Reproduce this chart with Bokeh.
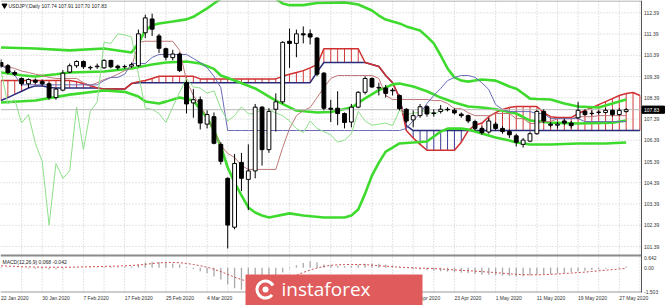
from bokeh.plotting import figure
from bokeh.models import Range1d, ColumnDataSource
from bokeh.embed import file_html
from bokeh.resources import INLINE
from bokeh.core.properties import value

# ---------------- data ----------------
symbol_header = "USDJPY,Daily  107.74 107.91 107.70 107.83"
macd_header = "MACD(12,26,9) 0.068 -0.042"

opens = [110.05,109.90,109.58,109.30,109.05,109.22,109.15,109.05,108.40,108.75,
         109.60,109.90,110.10,109.82,109.85,109.80,110.15,109.88,109.85,109.88,
         109.90,111.45,112.10,111.30,110.70,110.28,110.45,109.10,108.15,108.30,
         107.15,107.50,106.20,104.60,102.30,105.35,104.55,104.95,107.95,105.95,
         107.85,108.20,111.05,110.95,111.40,111.40,111.20,109.55,107.90,107.90,
         107.65,107.25,107.95,108.65,109.30,108.88,108.85,108.75,108.50,107.85,
         107.35,107.55,107.97,107.68,107.75,107.85,107.80,107.62,107.55,107.27,
         106.95,106.78,107.15,106.95,106.80,106.60,106.20,106.35,106.70,107.75,
         107.15,107.10,107.30,107.20,107.45,107.75,107.65,107.70,107.70,107.80,
         107.60,107.74]
highs = [110.20,109.98,109.68,109.35,109.30,109.30,109.25,109.12,108.85,109.70,
         110.00,110.15,110.15,109.90,110.00,110.20,110.18,109.95,109.95,110.05,
         111.60,112.30,112.35,111.40,110.75,110.65,110.52,109.20,108.80,108.45,
         107.80,107.70,106.30,104.65,105.75,105.80,106.20,108.10,108.00,107.90,
         108.60,111.05,111.65,111.60,111.75,111.60,111.25,109.60,108.30,108.70,
         107.70,108.10,108.70,109.40,109.35,109.10,109.00,108.85,108.55,107.90,
         107.80,108.10,108.05,107.85,108.05,107.95,107.90,107.70,107.60,107.35,
         107.05,107.45,107.25,107.05,106.90,106.70,106.50,106.80,107.80,107.85,
         107.25,107.25,107.40,107.30,108.20,107.85,107.80,107.80,107.90,107.85,
         107.90,107.91]
lows = [109.80,109.50,109.42,108.95,108.85,109.05,108.95,108.30,108.30,108.70,
        109.55,109.80,109.75,109.70,109.75,109.75,109.78,109.70,109.75,109.80,
        109.85,111.20,111.30,110.50,110.15,110.15,109.60,107.65,107.45,106.90,
        106.95,106.20,105.25,101.30,102.20,104.00,103.10,104.60,105.20,105.80,
        106.80,108.10,109.80,110.30,110.95,110.90,109.40,107.80,107.25,107.10,
        106.95,107.00,107.90,108.55,108.85,108.50,108.40,108.50,107.80,107.20,
        107.00,107.45,107.50,107.50,107.65,107.75,107.60,107.45,107.20,106.85,
        106.65,106.70,106.85,106.70,106.50,106.10,106.05,106.30,106.65,107.20,
        107.00,106.95,107.10,106.95,107.40,107.55,107.55,107.60,107.65,107.50,
        107.55,107.70]
closes = [109.88,109.58,109.50,109.05,109.25,109.12,109.05,108.40,108.80,109.55,
          109.90,110.10,109.85,109.80,109.88,110.15,109.85,109.80,109.86,109.95,
          111.40,112.15,111.62,110.72,110.30,110.45,109.67,108.10,108.30,107.20,
          107.60,106.25,105.40,102.40,105.30,104.60,104.95,107.95,105.95,107.75,
          108.20,111.00,110.95,111.40,111.35,111.25,109.50,107.90,107.85,107.65,
          107.23,107.95,108.65,109.30,108.90,108.85,108.60,108.72,107.88,107.30,
          107.55,107.97,107.63,107.65,107.85,107.83,107.68,107.55,107.30,106.95,
          106.75,107.30,106.95,106.80,106.65,106.30,106.40,106.70,107.75,107.30,
          107.10,107.15,107.20,107.08,107.80,107.60,107.66,107.72,107.80,107.60,
          107.80,107.83]
last_price = 107.83

# Bollinger bands (bar index, value)
bb_up_idx = [0,5,10,15,18,19,20,21,22,23,25,27,28,29,30,31,32,33,35,37,39,40,41,42,44,46,50,52,53,54,55,56,57,58,59,60,61,62,63,64,65,66,67,68,69,70,72,73,74,75,76,77,78,80,82,84,87,89,91]
bb_up = [110.76,110.71,110.62,110.71,110.57,110.52,110.95,111.56,111.80,111.89,111.98,112.08,112.20,112.40,112.60,112.83,113.05,113.30,113.60,113.70,113.40,113.05,112.83,112.75,112.75,112.85,112.88,112.78,112.64,112.50,112.26,112.07,111.98,111.89,111.75,111.65,111.56,111.27,110.95,110.38,109.77,109.35,109.20,109.15,109.20,109.25,109.20,109.06,108.92,108.82,108.59,108.35,108.33,108.31,108.12,107.98,107.93,108.12,108.31]
bb_mid_idx = [0,3,5,8,10,15,19,22,24,27,29,31,32,34,37,40,43,46,48,51,53,55,56,57,58,60,62,64,66,68,70,72,75,77,80,84,89,91]
bb_mid = [109.58,109.45,109.39,109.50,109.58,109.63,109.77,109.96,110.05,110.10,110.00,109.75,109.44,109.20,108.83,108.26,107.79,107.70,107.72,107.93,108.36,108.75,108.87,109.02,109.06,108.92,108.70,108.40,108.17,107.98,107.93,107.85,107.65,107.32,107.22,107.18,107.22,107.32]
bb_low_idx = [0,5,10,15,18,20,21,23,24,26,28,30,31,32,33,34,35,36,37,38,39,42,44,47,50,51,52,53,54,55,56,57,58,60,62,63,64,65,67,68,69,70,72,74,75,77,80,84,88,91]
bb_low = [108.17,108.26,108.54,108.73,108.67,108.45,108.22,108.12,108.21,108.40,108.26,107.46,106.85,106.10,105.11,104.40,103.80,103.23,102.99,102.85,102.76,102.95,102.85,102.76,102.76,102.85,103.13,103.88,104.73,105.34,105.86,106.05,106.24,106.29,106.33,106.57,106.80,106.94,106.94,106.90,106.80,106.71,106.52,106.38,106.29,106.19,106.19,106.24,106.24,106.29]

# Ichimoku
tenkan = [109.91,109.85,109.77,109.65,109.58,109.50,109.44,109.35,109.30,109.30,
          109.30,109.30,109.10,108.97,109.10,109.25,109.35,109.50,109.67,109.81,
          111.00,111.05,111.05,111.05,111.05,111.05,110.62,109.20,108.50,108.03,
          107.46,106.85,106.15,105.77,105.58,105.21,105.02,105.02,105.02,105.02,
          105.02,106.05,106.94,107.55,107.79,107.93,108.40,108.87,109.30,109.44,
          109.44,109.44,109.44,109.44,109.44,109.30,108.50,108.31,108.31,108.31,
          108.31,108.31,108.31,108.26,108.26,108.12,107.88,107.88,107.69,107.55,
          107.55,107.55,107.65,107.65,107.65,107.41,107.41,107.18,107.18,107.27,
          107.27,107.41,107.41,107.41,107.50,107.50,107.50,107.55,107.55,107.55,
          107.55,107.55]
kijun = [109.90,109.75,109.45,109.00,109.00,109.00,109.00,109.00,109.00,109.00,
         109.00,109.00,109.00,109.00,109.00,109.20,109.35,109.35,109.50,110.00,
         110.00,110.00,110.29,110.43,110.43,110.43,110.43,110.43,110.24,110.05,
         109.81,109.40,108.87,106.85,106.85,106.85,106.85,106.85,106.85,106.85,
         106.85,106.85,106.85,106.85,106.85,106.85,106.85,106.85,106.85,106.85,
         106.85,106.85,106.85,106.85,106.85,106.85,106.85,106.85,106.85,106.95,
         107.32,107.65,108.12,108.50,108.83,109.20,109.35,109.44,109.44,109.35,
         109.10,108.78,108.07,107.84,107.74,107.74,107.74,107.74,107.65,107.65,
         107.41,107.41,107.41,107.41,107.41,107.27,107.27,107.27,107.27,107.27,
         107.27,107.27]
span_a = [109.20,109.20,109.20,109.20,109.20,109.20,109.20,109.20,109.20,109.20,
          109.20,109.15,109.05,108.97,108.85,108.80,108.80,108.80,108.80,109.06,
          109.15,109.20,109.30,109.40,109.40,109.40,109.40,109.40,109.40,109.28,
          109.28,109.28,109.28,109.28,109.28,109.28,109.28,109.28,109.28,109.28,
          109.28,109.40,109.50,109.58,109.67,109.80,109.95,110.70,110.70,110.70,
          110.70,110.70,110.70,110.05,109.96,109.86,109.44,109.10,108.40,106.85,
          106.50,106.20,105.92,105.92,105.92,105.92,105.92,106.30,106.85,107.10,
          107.20,107.50,107.69,107.84,107.93,107.98,107.98,107.98,107.98,107.69,
          107.50,107.46,107.46,107.46,107.65,107.79,107.93,108.07,108.21,108.35,
          108.50,108.59,108.64,108.50]
span_b = [108.26,108.40,108.55,108.70,108.85,108.95,108.95,108.88,108.85,108.85,
          108.85,108.85,108.85,108.85,108.85,108.80,108.80,108.80,108.80,109.06,
          109.10,109.10,109.10,109.10,109.10,109.10,109.10,109.10,109.10,109.10,
          109.10,109.10,109.10,109.10,109.10,109.10,109.10,109.10,109.10,109.10,
          109.10,109.10,109.10,109.10,109.10,109.10,109.60,110.05,110.05,110.05,
          110.05,110.05,110.05,110.05,109.96,109.86,109.44,109.10,108.40,107.08,
          106.85,106.85,106.85,106.85,106.85,106.85,106.85,106.85,106.85,106.85,
          106.85,106.85,106.85,106.85,106.85,106.85,106.85,106.85,106.85,106.85,
          106.85,106.85,106.85,106.85,106.85,106.85,106.85,106.85,106.85,106.85,
          106.85,106.85,106.85,106.85]
chikou_shift = 26

# MACD
macd_main = [0.05,0.03,0.00,-0.03,-0.05,-0.06,-0.07,-0.10,-0.10,-0.07,
             -0.04,-0.02,0.00,0.02,0.03,0.05,0.06,0.06,0.07,0.08,
             0.20,0.33,0.38,0.36,0.32,0.27,0.20,0.05,-0.08,-0.22,
             -0.35,-0.55,-0.75,-1.05,-1.30,-1.40,-1.45,-1.20,-1.05,-0.85,
             -0.65,-0.30,-0.05,0.15,0.30,0.40,0.35,0.20,0.15,0.12,
             0.10,0.12,0.18,0.25,0.27,0.25,0.20,0.14,0.08,0.00,
             -0.08,-0.12,-0.16,-0.20,-0.22,-0.25,-0.28,-0.32,-0.35,-0.40,
             -0.44,-0.45,-0.47,-0.50,-0.52,-0.55,-0.54,-0.50,-0.45,-0.42,
             -0.40,-0.37,-0.33,-0.28,-0.24,-0.20,-0.15,-0.10,-0.06,-0.02,
             0.03,0.068]
macd_signal = [0.12,0.10,0.08,0.06,0.05,0.04,0.03,0.03,0.03,0.03,
               0.03,0.04,0.05,0.06,0.07,0.08,0.09,0.10,0.12,0.14,
               0.17,0.21,0.26,0.30,0.33,0.33,0.31,0.27,0.20,0.12,
               0.03,-0.10,-0.25,-0.42,-0.60,-0.75,-0.88,-0.95,-0.97,-0.95,
               -0.90,-0.80,-0.65,-0.48,-0.30,-0.15,-0.02,0.08,0.15,0.18,
               0.20,0.20,0.20,0.19,0.16,0.12,0.09,0.06,0.03,0.01,
               -0.01,-0.03,-0.04,-0.06,-0.08,-0.11,-0.14,-0.17,-0.19,-0.22,
               -0.25,-0.28,-0.31,-0.35,-0.39,-0.42,-0.44,-0.45,-0.45,-0.44,
               -0.42,-0.40,-0.37,-0.34,-0.31,-0.28,-0.24,-0.20,-0.16,-0.12,
               -0.08,-0.042]

price_ticks = [112.39,111.39,110.39,109.39,108.39,107.39,106.39,105.39,104.39,103.39,102.39,101.39]
macd_ticks = [0.642, 0.00, -1.503]
macd_tick_labels = ["0.642", "0.00", "-1.503"]
date_bars = [0,6,12,18,24,30,36,42,48,54,60,66,72,78,84,90]
date_labels = ["22 Jan 2020","30 Jan 2020","7 Feb 2020","17 Feb 2020","25 Feb 2020","4 Mar 2020",
               "12 Mar 2020","20 Mar 2020","30 Mar 2020","7 Apr 2020","15 Apr 2020","23 Apr 2020",
               "1 May 2020","11 May 2020","19 May 2020","27 May 2020"]

# ---------------- layout (pixels of the 665x305 page) ----------------
W, H = 665, 305
BAR_PX, BAR0_PX = 6.87, 0.5
PRICE_PX, REF_PRICE, REF_Y = 21.25, 112.39, 12.3
M_TOP_V, M_TOP_Y, M_BOT_V, M_BOT_Y = 0.642, 257.0, -1.503, 291.0
RIGHT_PX, MAIN_BOTTOM_PX = 641, 254
WM_LEFT, WM_RIGHT, WM_TOP = 245, 422, 274   # watermark banner over the date axis

def bx(px):
    return (px - BAR0_PX) / BAR_PX

def py(ypx):
    return REF_PRICE - (ypx - REF_Y) / PRICE_PX

M_PX = (M_BOT_Y - M_TOP_Y) / (M_TOP_V - M_BOT_V)

def my(ypx):
    return M_TOP_V - (ypx - M_TOP_Y) / M_PX

FONT = value("Liberation Sans")
n = len(closes)
bars = list(range(n))

p = figure(width=W, height=H, x_range=Range1d(bx(0), bx(W)), y_range=Range1d(py(H), py(0)),
           output_backend="svg", toolbar_location=None, min_border=0,
           x_axis_location=None, y_axis_location=None)
p.extra_y_ranges = {"macd": Range1d(my(H), my(0))}
p.outline_line_color = None
p.grid.visible = False
p.background_fill_color = "white"
p.border_fill_color = "white"

xl, xr = bx(0), bx(RIGHT_PX)
grid_col = "#C9C9C9"
# horizontal grid
p.segment(x0=[xl] * len(price_ticks), x1=[xr] * len(price_ticks), y0=price_ticks, y1=price_ticks,
          line_color=grid_col, line_width=1, line_dash="1 2")
# vertical grid
vg = list(range(3, 94, 3))
p.segment(x0=vg, x1=vg, y0=[py(1)] * len(vg), y1=[py(MAIN_BOTTOM_PX)] * len(vg),
          line_color=grid_col, line_width=1, line_dash="1 2")
p.segment(x0=vg, x1=vg, y0=[my(257)] * len(vg), y1=[my(291)] * len(vg), y_range_name="macd",
          line_color=grid_col, line_width=1, line_dash="1 2")

# Ichimoku cloud hatching
nc = len(span_a)
hatch_col = ["#D23A3A" if a >= b else "#3C3C9A" for a, b in zip(span_a, span_b)]
p.segment(x0=list(range(nc)), x1=list(range(nc)), y0=span_a, y1=span_b, line_color=hatch_col, line_width=1)
p.line(list(range(nc)), span_b, line_color="#2A2A7A", line_width=1.5)
p.line(list(range(nc)), span_a, line_color="#D03030", line_width=1.5)

# Bollinger bands
BB = "#3EDB2E"
p.line(bb_up_idx, bb_up, line_color=BB, line_width=2.6)
p.line(bb_mid_idx, bb_mid, line_color=BB, line_width=2.6)
p.line(bb_low_idx, bb_low, line_color=BB, line_width=2.6)

# Tenkan / Kijun / Chikou
p.line(bars, tenkan, line_color="#C07878", line_width=1)
p.line(bars, kijun, line_color="#6A6AB8", line_width=1)
p.line(bars[: n - chikou_shift], closes[chikou_shift:], line_color="#8EE08A", line_width=1)

# bid line
p.line([xl, xr], [last_price, last_price], line_color="#B8B8B8", line_width=1)

# candles
up = [c >= o for o, c in zip(opens, closes)]
src = ColumnDataSource(dict(
    x=bars, o=opens, h=highs, l=lows, c=closes,
    top=[max(o, c) for o, c in zip(opens, closes)],
    bot=[min(o, c) for o, c in zip(opens, closes)],
    fill=["white" if u else "black" for u in up]))
p.segment(x0="x", x1="x", y0="l", y1="h", source=src, line_color="black", line_width=1)
p.vbar(x="x", width=0.56, top="top", bottom="bot", source=src,
       fill_color="fill", line_color="black", line_width=1)

# MACD panel
p.segment(x0=bars, x1=bars, y0=[0] * n, y1=macd_main, y_range_name="macd",
          line_color="#A9A9A9", line_width=1.3)
p.line(bars, macd_signal, y_range_name="macd", line_color="#C85050", line_width=1, line_dash="2 2")

# frame lines
p.line([xl, xr], [py(0.5), py(0.5)], line_color="#9A9A9A", line_width=1)
p.line([xl, xr], [py(255), py(255)], line_color="#8A8A8A", line_width=2)
p.line([xl, xr], [py(291.5), py(291.5)], line_color="#9A9A9A", line_width=1)
p.line([xr, xr], [py(0), py(292)], line_color="#555555", line_width=1)

# right price labels
p.text(x=[bx(643.5)] * len(price_ticks), y=price_ticks, text=["%.2f" % t for t in price_ticks],
       text_font=FONT, text_font_size="5px", text_color="#333333",
       text_align="left", text_baseline="middle")
p.text(x=[bx(643.5)] * len(macd_ticks), y=macd_ticks, text=macd_tick_labels, y_range_name="macd",
       text_font=FONT, text_font_size="5px", text_color="#333333",
       text_align="left", text_baseline="middle")
# current price tag
p.quad(left=[bx(641.5)], right=[bx(664)], top=[last_price + 3.6 / PRICE_PX], bottom=[last_price - 3.6 / PRICE_PX],
       fill_color="black", line_color="black")
p.text(x=[bx(643.5)], y=[last_price], text=["%.2f" % last_price], text_font=FONT, text_font_size="5px",
       text_color="white", text_align="left", text_baseline="middle")

# date labels (those lying completely under the watermark banner are not visible in the chart)
label_w_px = 22
vis = [(b, t) for b, t in zip(date_bars, date_labels)
       if not (bx(WM_LEFT) <= b and b + bx(label_w_px) - bx(0) <= bx(WM_RIGHT))]
p.text(x=[b for b, _ in vis], y=[py(297)] * len(vis), text=[t for _, t in vis], text_font=FONT,
       text_font_size="5px", text_color="#333333", text_align="left", text_baseline="middle")

# headers
p.scatter(x=[bx(4)], y=[py(5)], marker="inverted_triangle", size=5, fill_color="black", line_color="black")
p.text(x=[bx(8)], y=[py(5)], text=[symbol_header], text_font=FONT, text_font_size="5px",
       text_color="#222222", text_align="left", text_baseline="middle")
p.text(x=[bx(2)], y=[py(261)], text=[macd_header], text_font=FONT, text_font_size="5px",
       text_color="#222222", text_align="left", text_baseline="middle")

# watermark
p.quad(left=[bx(WM_LEFT)], right=[bx(WM_RIGHT)], top=[py(WM_TOP)], bottom=[py(306)],
       fill_color="#E05C5C", line_color=None)
p.annular_wedge(x=[bx(265)], y=[py(289)], inner_radius=7, outer_radius=10,
                inner_radius_units="screen", outer_radius_units="screen",
                start_angle=0.5, end_angle=5.6, fill_color="white", line_color=None)
p.scatter(x=[bx(265)], y=[py(289)], marker="circle", size=6, fill_color="white", line_color=None)
p.text(x=[bx(281)], y=[py(288)], text=["instaforex"], text_font=value("Open Sans"),
       text_font_size="19px", text_color="white", text_align="left", text_baseline="middle")

open("out.html", "w").write(file_html(p, INLINE))
